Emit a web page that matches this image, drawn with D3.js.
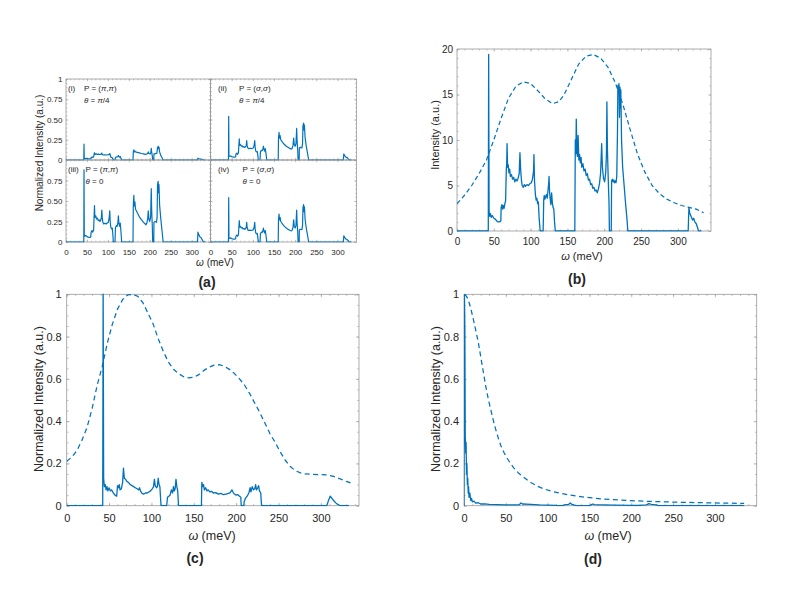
<!DOCTYPE html>
<html lang="en">
<head>
<meta charset="UTF-8">
<title>Raman spectra panels</title>
<script src="https://d3js.org/d3.v7.min.js"></script>
<style>
  body { margin: 0; background: #fff; }
  svg text { font-family: "Liberation Sans", Arial, sans-serif; fill: #262626; }
</style>
</head>
<body>
<div id="chart"></div>
<script>
// ---- data: [omega (meV), intensity] ----
const xTickVals = [0, 50, 100, 150, 200, 250, 300];
const aYTicks = [0, 0.25, 0.5, 0.75, 1];
const bYTicks = [0, 5, 10, 15, 20];
const cdYTicks = [0, 0.2, 0.4, 0.6, 0.8, 1];

// (a)(i) P=(pi,pi), theta=pi/4
const aI = [[0,0],[42.5,0],[43,0.195],[43.6,0.02],[46,0.018],[50,0.02],[54,0.015],[58,0.015],[59.5,0.018],[60,0.03],[62,0.035],[64,0.03],[66,0.04],[67,0.07],[68,0.09],[69,0.07],[72,0.075],[75,0.07],[78,0.072],[81,0.068],[84,0.072],[85.5,0.085],[86.5,0.07],[89,0.062],[93,0.065],[97,0.062],[101,0.066],[103,0.07],[104.5,0.08],[105.5,0.065],[107,0.035],[110,0.03],[112,0.015],[113,0],[117,0],[118,0.03],[121,0.038],[124,0.042],[125,0.055],[126.5,0.04],[128,0.035],[129.5,0.045],[131,0.025],[133,0],[160,0],[160.7,0.1],[162,0.125],[163,0.1],[164.5,0.11],[166,0.1],[170,0.095],[175,0.088],[180,0.08],[185,0.075],[189,0.07],[192,0.072],[195,0.08],[196.5,0.1],[198,0.08],[201,0.075],[202.5,0.09],[203.6,0.145],[204.5,0.1],[206,0.05],[207,0],[209.5,0],[210,0.075],[214,0.078],[217,0.085],[218.5,0.15],[220,0.168],[221,0.14],[222,0.16],[223.5,0.1],[226,0.06],[229,0.03],[232,0],[314,0],[315,0.022],[318,0.015],[322,0.01],[326,0.004],[328,0],[333,0]];

// (a)(ii) and (a)(iv) P=(sigma,sigma) -- both panels show the same curve
const aII = [[0,0],[42.5,0],[43,0.54],[43.6,0.05],[45,0.045],[48,0.05],[51,0.04],[54,0.035],[57,0.035],[59.5,0.04],[60,0.07],[62,0.085],[64,0.07],[66,0.09],[67,0.18],[68,0.26],[69,0.18],[71,0.19],[73,0.17],[75,0.175],[77,0.16],[79,0.165],[81,0.155],[83,0.165],[84.5,0.18],[85.5,0.24],[86.5,0.18],[88,0.15],[90,0.14],[93,0.145],[96,0.14],[99,0.145],[101,0.15],[103,0.18],[104.5,0.24],[105.5,0.16],[107,0.11],[109,0.1],[110.5,0.105],[112,0.05],[113,0],[117,0],[118,0.1],[120,0.12],[122,0.115],[124,0.14],[125,0.17],[126.5,0.13],[128,0.11],[129.5,0.14],[131,0.085],[133,0],[160,0],[160.7,0.27],[162,0.34],[163,0.27],[164.5,0.3],[166,0.25],[168,0.235],[170,0.22],[173,0.2],[176,0.185],[179,0.17],[182,0.16],[185,0.15],[188,0.14],[191,0.135],[193,0.145],[195,0.18],[196.5,0.27],[198,0.19],[200,0.17],[202,0.2],[203.6,0.39],[204.5,0.25],[206,0.13],[207,0],[209.5,0],[210,0.15],[213,0.155],[216,0.15],[217.5,0.2],[218.5,0.42],[220,0.455],[221,0.37],[222,0.43],[223.5,0.28],[226,0.18],[229,0.09],[232,0],[314,0],[315,0.075],[317,0.055],[320,0.035],[323,0.03],[326,0.012],[328,0],[333,0]];

// (a)(iii) P=(pi,pi), theta=0
const aIII = [[0,0],[42.5,0],[43,0.88],[43.6,0.09],[45,0.07],[47,0.08],[50,0.065],[53,0.06],[56,0.055],[59,0.06],[60,0.12],[62,0.14],[64,0.12],[66,0.15],[67,0.3],[68,0.445],[69,0.3],[71,0.32],[73,0.28],[75,0.29],[77,0.26],[79,0.27],[81,0.25],[83,0.27],[84.5,0.3],[85.5,0.39],[86.5,0.3],[88,0.24],[90,0.22],[93,0.23],[96,0.22],[99,0.235],[101,0.24],[103,0.29],[104.5,0.38],[105.5,0.25],[107,0.18],[109,0.16],[110.5,0.17],[112,0.08],[113,0],[117,0],[118,0.17],[120,0.2],[122,0.19],[124,0.24],[125,0.32],[126.5,0.22],[128,0.19],[129.5,0.23],[131,0.14],[133,0],[160,0],[160.7,0.45],[162,0.57],[163,0.44],[164.5,0.49],[166,0.4],[168,0.38],[170,0.36],[173,0.33],[176,0.3],[179,0.28],[182,0.26],[185,0.24],[188,0.225],[191,0.21],[193,0.23],[195,0.28],[196.5,0.38],[198,0.28],[200,0.25],[202,0.3],[203.6,0.65],[204.5,0.4],[206,0.2],[207,0],[209.5,0],[210,0.24],[213,0.25],[216,0.24],[217.5,0.3],[218.5,0.7],[220,0.74],[221,0.6],[222,0.7],[223.5,0.45],[226,0.3],[229,0.15],[232,0],[314,0],[315,0.12],[317,0.09],[320,0.06],[323,0.05],[326,0.02],[328,0],[333,0]];

// (b) intensity and its envelope
const bSpec = [[0,0],[42.5,0],[43,19.4],[43.6,2.2],[44.5,1.6],[45.5,1.9],[46.5,1.5],[48,1.7],[50,1.4],[52,1.3],[54,1.1],[56,1.0],[58,1.0],[59.5,1.1],[60,2.6],[61,2.9],[62,2.4],[63,2.8],[64,2.5],[65,3.0],[66,3.3],[67,6.8],[67.5,7.4],[68,9.6],[68.7,7.0],[69.5,7.3],[70.5,6.4],[71.5,6.8],[72.5,6.0],[74,6.2],[75.5,5.7],[77,5.9],[78.5,5.4],[80,5.7],[81.5,5.5],[83,5.8],[84.5,6.3],[85.5,8.6],[86.5,6.7],[87.5,5.6],[88.5,5.0],[90,4.8],[91.5,5.1],[93,4.9],[95,5.1],[97,5.0],[99,5.2],[101,5.3],[102.5,5.7],[104,6.6],[104.5,8.4],[105.3,5.5],[106.5,4.0],[107.5,3.4],[108.5,3.6],[109.5,3.0],[110.5,3.2],[111.5,1.5],[113,0],[117,0],[117.8,3.4],[118.5,3.9],[119.5,3.5],[120.5,3.8],[121.5,4.0],[122.5,3.6],[123.5,4.4],[124.5,5.2],[125,6.0],[125.8,4.2],[126.5,3.6],[127.5,2.9],[128.5,4.2],[129.5,3.1],[130.5,2.6],[131.5,2.4],[132.5,1.0],[133.5,0],[160,0],[160.7,10.0],[161.5,8.5],[162,12.3],[162.8,9.0],[163.5,8.2],[164.5,10.5],[165.5,7.8],[166.5,8.4],[167.5,7.5],[168.5,8.1],[169.5,7.0],[171,7.4],[172.5,6.6],[174,6.8],[175.5,6.1],[177,6.3],[178.5,5.6],[180,5.7],[181.5,5.1],[183,5.2],[184.5,4.7],[186,4.8],[187.5,4.4],[189,4.5],[190.5,4.2],[192,4.6],[193.5,5.2],[195,6.3],[196.5,9.6],[197.5,7.0],[199,5.8],[200.5,5.4],[202,6.4],[203,8.5],[203.6,14.2],[204.3,9.0],[205.5,5.5],[206.5,3.0],[207,0],[209.5,0],[210,5.5],[211,5.7],[212,5.4],[213,5.6],[214,5.3],[215,5.5],[216,5.3],[217,6.0],[218,11.0],[218.5,16.0],[219.3,15.4],[220,16.2],[220.7,12.5],[221.3,15.8],[222,13.5],[222.5,15.5],[223.5,10],[225,7],[227,5],[229,3],[231,1.2],[232,0],[314,0],[315,2.6],[316,2.0],[318,1.6],[320,1.2],[321.5,1.4],[323,1.0],[325,0.8],[327,0.3],[328,0],[332,0]];
const bEnv = [[0,3.0],[10,3.9],[20,5.0],[30,6.3],[40,7.8],[50,10.0],[60,12.4],[70,14.6],[80,15.9],[90,16.4],[100,16.2],[110,15.4],[120,14.5],[130,14.0],[138,14.2],[145,14.9],[155,16.6],[165,18.3],[175,19.2],[185,19.4],[195,19.0],[205,18.0],[215,16.3],[225,14.0],[235,11.2],[245,8.5],[255,6.5],[265,5.0],[275,4.1],[285,3.5],[295,3.1],[305,2.8],[315,2.6],[325,2.4],[335,2.0]];

// (c) normalized intensity and envelope
const cSpec = [[0,0],[42.5,0],[43,1.05],[43.6,0.13],[44.5,0.09],[45.5,0.1],[46.5,0.075],[47.5,0.09],[48.5,0.07],[50,0.085],[51.5,0.07],[53,0.075],[55,0.06],[57,0.05],[59,0.045],[60,0.095],[61,0.085],[62,0.1],[63,0.075],[64.5,0.08],[66,0.11],[67,0.178],[68,0.13],[69.5,0.125],[71,0.115],[73,0.11],[75,0.1],[77,0.095],[79,0.09],[81,0.085],[83,0.08],[85,0.075],[86,0.085],[87,0.07],[89,0.058],[91,0.055],[93,0.06],[95,0.06],[97,0.065],[99,0.07],[101,0.08],[102.5,0.09],[103.5,0.125],[104.5,0.095],[106,0.085],[107,0.09],[108,0.13],[109,0.1],[110,0.09],[111,0.02],[111.5,0],[118,0],[119,0.04],[120.5,0.045],[122,0.05],[123.5,0.075],[125,0.06],[126,0.09],[127,0.07],[128,0.08],[129,0.125],[130,0.09],[131,0.07],[132,0],[159,0],[159.5,0.11],[160.5,0.09],[161.5,0.1],[162.5,0.075],[164,0.085],[165.5,0.07],[167,0.075],[169,0.065],[171,0.068],[173,0.06],[176,0.062],[179,0.055],[182,0.058],[185,0.052],[188,0.055],[191,0.058],[193,0.062],[195,0.075],[196.5,0.062],[198,0.055],[200,0.05],[202,0.052],[204,0.045],[205.5,0.04],[206,0],[209,0],[209.5,0.02],[211,0.035],[213,0.045],[215,0.06],[216.5,0.085],[217.5,0.065],[219,0.09],[220.5,0.075],[222,0.08],[223,0.1],[224,0.075],[225.5,0.085],[226.5,0.095],[227.5,0.07],[229,0.06],[230,0],[307,0],[309,0.025],[311,0.045],[312,0.04],[314,0.03],[316,0.02],[318,0.012],[320,0.006],[322,0.002],[324,0],[333,0]];
const cEnv = [[0,0.21],[6,0.23],[12,0.26],[18,0.31],[24,0.37],[30,0.46],[36,0.57],[42,0.66],[48,0.77],[54,0.86],[60,0.93],[66,0.975],[72,0.997],[78,1.0],[84,0.99],[90,0.96],[96,0.91],[102,0.86],[108,0.79],[114,0.73],[120,0.68],[126,0.645],[132,0.625],[138,0.61],[144,0.605],[150,0.607],[156,0.62],[162,0.64],[168,0.655],[174,0.665],[180,0.667],[186,0.66],[192,0.645],[198,0.625],[204,0.6],[210,0.57],[216,0.53],[222,0.485],[228,0.44],[234,0.39],[240,0.34],[246,0.3],[252,0.255],[258,0.215],[264,0.185],[270,0.165],[276,0.155],[282,0.15],[290,0.148],[298,0.147],[306,0.146],[314,0.14],[322,0.128],[330,0.115],[335,0.108]];

// (d) normalized intensity and envelope
const dSpec = [[0,0],[0.5,1.0],[1.0,0.85],[1.5,0.33],[2,0.25],[2.5,0.3],[3,0.15],[3.5,0.2],[4,0.1],[4.5,0.13],[5,0.06],[5.5,0.09],[6,0.04],[7,0.06],[8,0.025],[9,0.035],[10,0.018],[12,0.022],[14,0.012],[17,0.014],[20,0.008],[25,0.009],[30,0.006],[40,0.005],[50,0.004],[60,0.004],[66,0.004],[68,0.013],[70,0.008],[80,0.006],[90,0.004],[100,0.003],[110,0.002],[112,0],[118,0],[120,0.004],[125,0.006],[127,0.013],[129,0.006],[133,0.002],[134,0],[150,0],[152,0.004],[154,0.008],[156,0.005],[165,0.004],[180,0.003],[200,0.002],[207,0.001],[210,0.002],[218,0.004],[221,0.01],[224,0.006],[230,0.004],[232,0],[335,0]];
const dEnv = [[1,1.0],[3,0.99],[5,0.975],[8,0.935],[11,0.885],[14,0.83],[17,0.775],[20,0.705],[23,0.635],[26,0.565],[29,0.505],[32,0.455],[35,0.405],[38,0.36],[41,0.32],[44,0.285],[48,0.25],[52,0.222],[56,0.198],[60,0.176],[65,0.155],[70,0.139],[75,0.124],[80,0.11],[87,0.094],[95,0.08],[105,0.068],[115,0.059],[125,0.051],[135,0.045],[150,0.038],[165,0.032],[185,0.027],[205,0.023],[225,0.02],[250,0.017],[275,0.015],[300,0.013],[320,0.012],[335,0.011]];

const blue = "#0072BD";
const frameColor = "#9a9a9a";

const svg = d3.select("#chart").append("svg")
    .attr("width", 789)
    .attr("height", 599)
    .style("background", "#fff");

let clipCount = 0;

function drawAxes(o) {
    const x = d3.scaleLinear().domain(o.xDomain).range([o.left, o.right]);
    const y = d3.scaleLinear().domain(o.yDomain).range([o.bottom, o.top]);
    const g = svg.append("g");
    const id = "clip" + (clipCount++);
    svg.append("clipPath").attr("id", id).append("rect")
        .attr("x", o.left).attr("y", o.top - 0.5)
        .attr("width", o.right - o.left).attr("height", o.bottom - o.top + 1);

    const fs = o.fontSize;
    const major = o.tickLen, minor = o.tickLen * 0.6;
    const xMinorVals = d3.range(0, o.xDomain[1], 10);
    const yMinorVals = d3.range(o.yDomain[0], o.yDomain[1] + 1e-9, o.yMinor);

    function style(sel) {
        sel.select(".domain").remove();
        sel.selectAll("line").attr("stroke", frameColor).attr("stroke-width", 0.6);
        sel.attr("font-family", null).attr("font-size", fs);
        sel.selectAll("text").attr("fill", "#262626").attr("font-size", fs);
    }

    // minor ticks all four sides
    [[d3.axisBottom(x).tickValues(xMinorVals), `translate(0,${o.bottom})`],
     [d3.axisTop(x).tickValues(xMinorVals), `translate(0,${o.top})`],
     [d3.axisLeft(y).tickValues(yMinorVals), `translate(${o.left},0)`],
     [d3.axisRight(y).tickValues(yMinorVals), `translate(${o.right},0)`]
    ].forEach(([ax, tr]) => {
        g.append("g").attr("transform", tr)
            .call(ax.tickSize(-minor).tickFormat(""))
            .call(style);
    });

    // major ticks without labels on top and right
    g.append("g").attr("transform", `translate(0,${o.top})`)
        .call(d3.axisTop(x).tickValues(xTickVals).tickSize(-major).tickFormat(""))
        .call(style);
    g.append("g").attr("transform", `translate(${o.right},0)`)
        .call(d3.axisRight(y).tickValues(o.yTicks).tickSize(-major).tickFormat(""))
        .call(style);

    // bottom and left with labels
    g.append("g").attr("transform", `translate(0,${o.bottom})`)
        .call(d3.axisBottom(x).tickValues(xTickVals).tickSize(-major)
            .tickPadding(o.xPad)
            .tickFormat(o.showX ? d3.format("d") : ""))
        .call(style);
    g.append("g").attr("transform", `translate(${o.left},0)`)
        .call(d3.axisLeft(y).tickValues(o.yTicks).tickSize(-major)
            .tickPadding(o.yPad)
            .tickFormat(d => (o.showY && !(o.hideTop && d === o.yDomain[1])) ? o.yFmt(d) : ""))
        .call(style);

    // frame
    g.append("rect")
        .attr("x", o.left).attr("y", o.top)
        .attr("width", o.right - o.left).attr("height", o.bottom - o.top)
        .attr("fill", "none").attr("stroke", frameColor).attr("stroke-width", 0.8);

    // data lines
    o.series.forEach(s => {
        g.append("path").datum(s.data)
            .attr("clip-path", `url(#${id})`)
            .attr("fill", "none")
            .attr("stroke", blue)
            .attr("stroke-width", s.width)
            .attr("stroke-linejoin", "round")
            .attr("stroke-dasharray", s.dashed ? s.dash : null)
            .attr("d", d3.line().x(d => x(d[0])).y(d => y(d[1])));
    });
    return { x, y };
}

function fmtA(d) {
    if (d === 0) return "0";
    if (d === 1) return "1";
    return d.toFixed(2);
}
function fmtC(d) {
    return d === 0 ? "0" : d === 1 ? "1" : d.toFixed(1);
}

// ---- panel (a): 2x2 grid ----
const aCols = [[66, 210.5], [210.5, 356.5]];
const aRows = [[79, 160], [160, 242]];
const aCurves = [[aI, aII], [aIII, aII]];
aRows.forEach((r, ri) => {
    aCols.forEach((c, ci) => {
        drawAxes({
            left: c[0], right: c[1], top: r[0], bottom: r[1],
            xDomain: [0, 345], yDomain: [0, 1],
            yTicks: aYTicks, yMinor: 0.05, yFmt: fmtA,
            showX: ri === 1, showY: ci === 0, hideTop: ri === 1,
            fontSize: 8, tickLen: 2.2, xPad: 7, yPad: 3.5,
            series: [{ data: aCurves[ri][ci], width: 1.2 }]
        });
    });
});

// annotations for (a)
const aNotes = [
    { x0: 68, x1: 84, y: 91, tag: "(i)", p: "π", th: [["π", true], ["/4", false]] },
    { x0: 218, x1: 239, y: 91, tag: "(ii)", p: "σ", th: [["π", true], ["/4", false]] },
    { x0: 68, x1: 85.5, y: 172, tag: "(iii)", p: "π", th: [["0", false]] },
    { x0: 218, x1: 242.5, y: 172, tag: "(iv)", p: "σ", th: [["0", false]] }
];
aNotes.forEach(n => {
    svg.append("text").attr("x", n.x0).attr("y", n.y).attr("font-size", 8).text(n.tag);
    const t1 = svg.append("text").attr("x", n.x1).attr("y", n.y).attr("font-size", 8);
    t1.append("tspan").text("P = (");
    t1.append("tspan").attr("font-style", "italic").text(n.p);
    t1.append("tspan").text(",");
    t1.append("tspan").attr("font-style", "italic").text(n.p);
    t1.append("tspan").text(")");
    const t2 = svg.append("text").attr("x", n.x1).attr("y", n.y + 11.5).attr("font-size", 8);
    t2.append("tspan").attr("font-style", "italic").text("θ");
    t2.append("tspan").text(" = ");
    n.th.forEach(([s, it]) => t2.append("tspan").attr("font-style", it ? "italic" : null).text(s));
});

// ---- panel (b) ----
drawAxes({
    left: 457, right: 711, top: 49, bottom: 231,
    xDomain: [0, 345], yDomain: [0, 20],
    yTicks: bYTicks, yMinor: 1, yFmt: d3.format("d"),
    showX: true, showY: true,
    fontSize: 10, tickLen: 2.6, xPad: 7, yPad: 4,
    series: [{ data: bSpec, width: 1.3 }, { data: bEnv, width: 1.2, dashed: true, dash: "4.5,3" }]
});

// ---- panel (c) ----
drawAxes({
    left: 66.7, right: 359, top: 294.3, bottom: 505.7,
    xDomain: [0, 345], yDomain: [0, 1],
    yTicks: cdYTicks, yMinor: 0.05, yFmt: fmtC,
    showX: true, showY: true,
    fontSize: 11, tickLen: 3, xPad: 9, yPad: 5,
    series: [{ data: cSpec, width: 1.3 }, { data: cEnv, width: 1.25, dashed: true, dash: "5,3.5" }]
});

// ---- panel (d) ----
drawAxes({
    left: 464, right: 756.7, top: 294.3, bottom: 505.7,
    xDomain: [0, 350], yDomain: [0, 1],
    yTicks: cdYTicks, yMinor: 0.05, yFmt: fmtC,
    showX: true, showY: true,
    fontSize: 11, tickLen: 3, xPad: 9, yPad: 5,
    series: [{ data: dSpec, width: 1.3 }, { data: dEnv, width: 1.25, dashed: true, dash: "5,3.5" }]
});

// ---- axis labels ----
function yLabel(x, y, size, txt) {
    svg.append("text")
        .attr("transform", `translate(${x},${y}) rotate(-90)`)
        .attr("text-anchor", "middle")
        .attr("font-size", size)
        .text(txt);
}
function xLabel(x, y, size) {
    const t = svg.append("text").attr("x", x).attr("y", y)
        .attr("text-anchor", "middle").attr("font-size", size);
    t.append("tspan").attr("font-style", "italic").text("ω");
    t.append("tspan").text(" (meV)");
}
function panelTag(x, y, txt) {
    svg.append("text").attr("x", x).attr("y", y)
        .attr("text-anchor", "middle")
        .attr("font-size", 14).attr("font-weight", "bold")
        .text(txt);
}

yLabel(43, 153, 10, "Normalized Intensity (a.u.)");
xLabel(215, 266, 10);
yLabel(439, 135, 11, "Intensity (a.u.)");
xLabel(582, 260, 11);
yLabel(42.5, 399, 12.5, "Normalized Intensity (a.u.)");
xLabel(212, 539.5, 12.5);
yLabel(440, 399, 12.5, "Normalized Intensity (a.u.)");
xLabel(608, 539.5, 12.5);

panelTag(207, 286.5, "(a)");
panelTag(577, 284, "(b)");
panelTag(195, 563, "(c)");
panelTag(593, 563.5, "(d)");
</script>
</body>
</html>
